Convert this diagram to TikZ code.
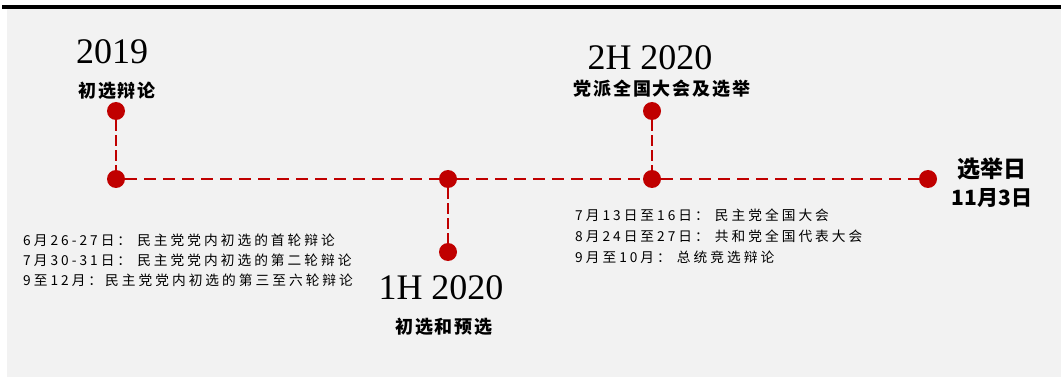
\documentclass[tikz,border=0pt]{standalone}
\usepackage{fontspec}
\setmainfont{Liberation Serif}
\newfontfamily\cjk{Noto Sans CJK SC}
\newfontfamily\cjkhead[LetterSpace=10]{Noto Sans CJK SC}
\newfontfamily\cjknote[LetterSpace=22]{Noto Sans CJK SC}
\definecolor{bg}{HTML}{F2F2F2}
\definecolor{tred}{HTML}{C00000}
\tikzset{
  dot/.style={circle,fill=tred,minimum size=18pt,inner sep=0pt},
  hline/.style={draw=tred,line width=2.3pt,dash pattern=on 12pt off 7pt},
  vline/.style={draw=tred,line width=1.8pt,dash pattern=on 11pt off 4pt},
  year/.style={font=\fontsize{36}{40}\selectfont,inner sep=0pt},
  head/.style={font=\cjkhead\bfseries\fontsize{18}{20}\selectfont,inner sep=0pt},
  note/.style={font=\cjknote\fontsize{13.7}{15}\selectfont,inner sep=0pt,anchor=west},
}
\begin{document}
\begin{tikzpicture}[x=1pt,y=-1pt]
\useasboundingbox (0,0) rectangle (1061,377);
\fill[bg] (7,9) rectangle (1061,377);
\fill[black] (2,5) rectangle (1061,9.5);
% dots
\node[dot] (t1) at (116,111) {};
\node[dot] (d1) at (116,179) {};
\node[dot] (d2) at (448,179) {};
\node[dot] (b2) at (448,252) {};
\node[dot] (t3) at (652,111) {};
\node[dot] (d3) at (652,179) {};
\node[dot] (d4) at (928,179) {};
% connectors
\draw[hline] (d1) -- (d2);
\draw[hline] (d2) -- (d3);
\draw[hline] (d3) -- (d4);
\draw[vline] (t1) -- (d1);
\draw[vline] (d2) -- (b2);
\draw[vline] (t3) -- (d3);
% headings
\node[year] (y1) at (112,52) {2019};
\node[head] (h1) at (117,91) {初选辩论};
\node[year] (y2) at (441,288) {1H 2020};
\node[head] (h2) at (444,327) {初选和预选};
\node[year] (y3) at (650,58) {2H 2020};
\node[head] (h3) at (662,89) {党派全国大会及选举};
\node[head,font=\cjk\bfseries\fontsize{23}{25}\selectfont] (h4) at (992,169) {选举日};
\node[head,font=\cjk\bfseries\fontsize{21}{23}\selectfont] (h5) at (992,198) {11月3日};
% notes
\node[note] (n1) at (23,240) {6月26-27日： 民主党党内初选的首轮辩论};
\node[note] (n2) at (23,260) {7月30-31日： 民主党党内初选的第二轮辩论};
\node[note] (n3) at (23,280) {9至12月：民主党党内初选的第三至六轮辩论};
\node[note] (m1) at (575,215) {7月13日至16日： 民主党全国大会};
\node[note] (m2) at (575,236) {8月24日至27日： 共和党全国代表大会};
\node[note] (m3) at (575,257) {9月至10月： 总统竞选辩论};
\end{tikzpicture}
\end{document}
